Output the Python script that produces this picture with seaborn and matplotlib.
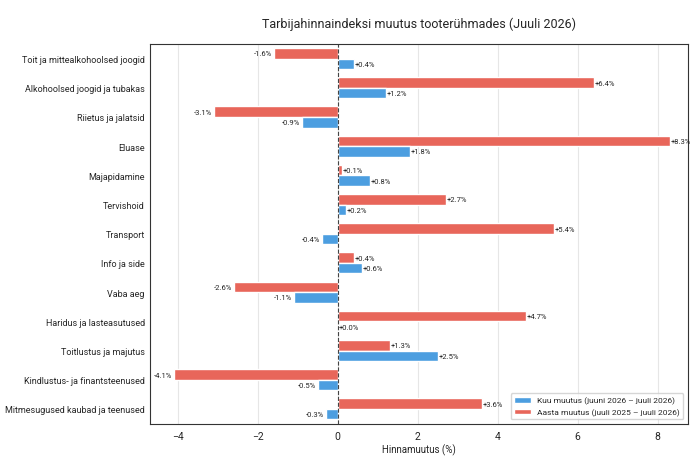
import matplotlib
matplotlib.use("Agg")
import matplotlib.pyplot as plt
import seaborn as sns
import pandas as pd

categories = ["Toit ja mittealkohoolsed joogid", "Alkohoolsed joogid ja tubakas", "Riietus ja jalatsid",
              "Eluase", "Majapidamine", "Tervishoid", "Transport", "Info ja side", "Vaba aeg",
              "Haridus ja lasteasutused", "Toitlustus ja majutus", "Kindlustus- ja finantsteenused",
              "Mitmesugused kaubad ja teenused"]
year_change = [-1.6, 6.4, -3.1, 8.3, 0.1, 2.7, 5.4, 0.4, -2.6, 4.7, 1.3, -4.1, 3.6]
month_change = [0.4, 1.2, -0.9, 1.8, 0.8, 0.2, -0.4, 0.6, -1.1, 0.0, 2.5, -0.5, -0.3]
lab_month = "Kuu muutus (juuni 2026 – juuli 2026)"
lab_year = "Aasta muutus (juuli 2025 – juuli 2026)"

sns.set_theme(style="white")
plt.rcParams['font.family'] = ['Roboto', 'DejaVu Sans']

df = pd.concat([
    pd.DataFrame({"cat": categories, "val": year_change, "series": lab_year}),
    pd.DataFrame({"cat": categories, "val": month_change, "series": lab_month}),
])

fig, ax = plt.subplots(figsize=(6.96, 4.64), dpi=100)
sns.barplot(data=df, y="cat", x="val", hue="series", hue_order=[lab_year, lab_month],
            palette={lab_year: "#e8665a", lab_month: "#4c9ee0"}, orient="h",
            width=0.72, saturation=1, ax=ax)
for cont in ax.containers:
    labels = [f"{v:+.1f}%" for v in cont.datavalues]
    ax.bar_label(cont, labels=labels, padding=1, fontsize=5.5)
ax.axvline(0, color="#444444", linestyle="--", linewidth=0.8)
ax.set_xlim(-4.7, 8.75)
ax.xaxis.grid(True, color="#e6e6e6", linewidth=0.8)
ax.set_axisbelow(True)
ax.set_ylabel("")
ax.set_xlabel("Hinnamuutus (%)", fontsize=7, labelpad=2)
ax.tick_params(axis="y", labelsize=6.5, length=0)
ax.tick_params(axis="x", labelsize=7.5, length=3, pad=2)
ax.set_title("Tarbijahinnaindeksi muutus tooterühmades (Juuli 2026)", fontsize=9, pad=12)
for s in ax.spines.values():
    s.set_color("#333333"); s.set_linewidth(0.8)
h, l = ax.get_legend_handles_labels()
ax.legend([h[1], h[0]], [l[1], l[0]], loc="lower right", fontsize=6, frameon=True)
fig.subplots_adjust(left=0.215, right=0.988, top=0.903, bottom=0.085)
fig.savefig("out.png", dpi=100)
